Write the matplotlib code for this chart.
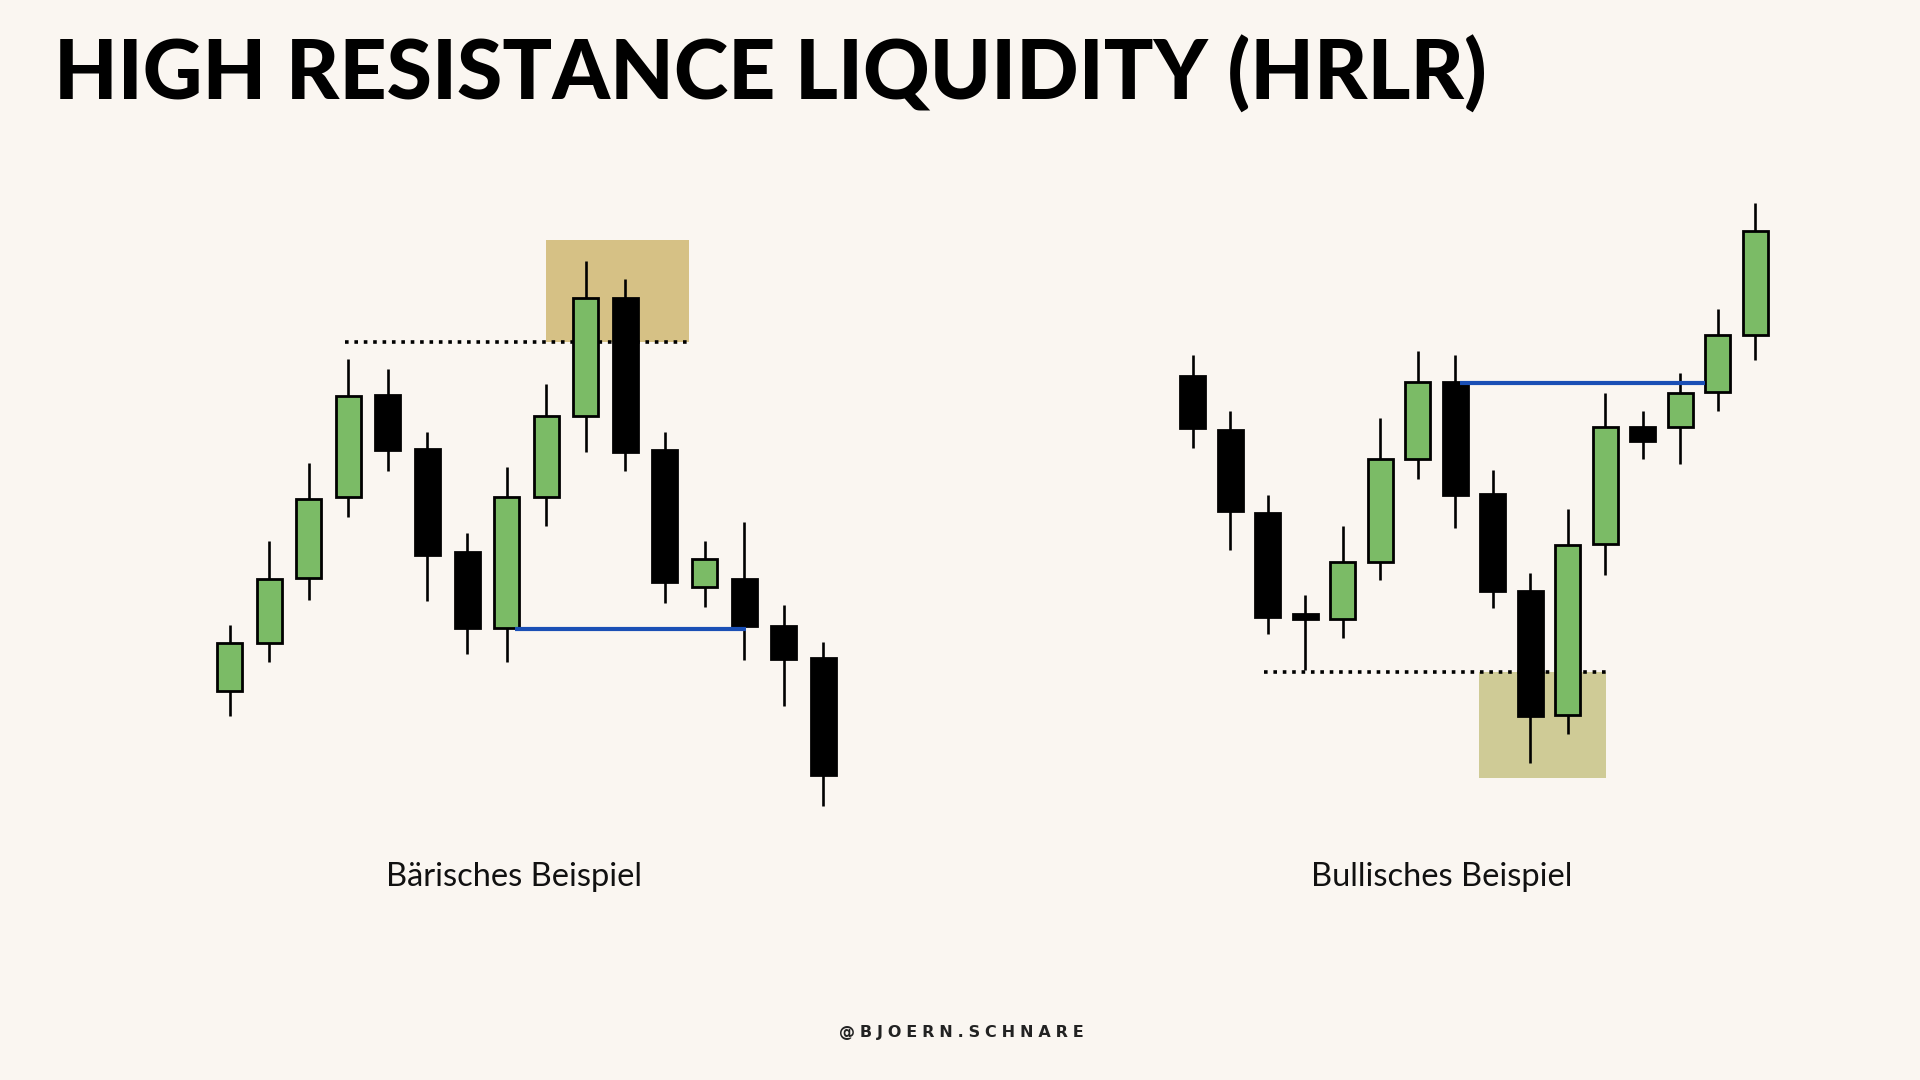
import matplotlib
matplotlib.use("Agg")
import matplotlib.pyplot as plt
from matplotlib.patches import Rectangle

# Colours
BG = "#faf6f1"
GREEN = "#7bbb66"
BLACK = "#000000"
BLUE = "#1a4fb5"
TAN_BEAR = "#d6c185"
TAN_BULL = "#cfcb96"

# Bearish example (open, high, low, close)
bear_open = [10.9, 15.7, 22.2, 30.3, 40.5, 35.1, 24.8, 17.2, 30.3, 38.4, 50.2, 35.0, 21.3, 22.1, 17.4, 14.2]
bear_high = [17.5, 25.9, 33.7, 44.1, 43.1, 36.8, 26.7, 33.3, 41.6, 53.9, 52.1, 36.8, 25.9, 27.8, 19.5, 15.8]
bear_low = [8.4, 13.8, 20.0, 28.3, 32.9, 19.9, 14.6, 13.8, 27.4, 34.8, 32.9, 19.7, 19.3, 14.0, 9.4, -0.6]
bear_close = [15.7, 22.1, 30.1, 40.4, 35.0, 24.5, 17.2, 30.3, 38.4, 50.2, 34.8, 21.8, 24.1, 17.4, 14.1, 2.5]

# Bullish example (open, high, low, close)
bull_open = [42.4, 37.0, 28.7, 18.6, 18.1, 23.8, 34.1, 41.8, 30.6, 20.9, 8.5, 25.6, 37.3, 37.3, 40.8, 46.5]
bull_high = [44.5, 38.9, 30.5, 20.5, 27.4, 38.2, 44.9, 44.5, 33.0, 22.7, 29.1, 40.7, 38.9, 42.7, 49.1, 59.7]
bull_low = [35.2, 25.0, 16.6, 13.0, 16.2, 22.0, 32.1, 27.2, 19.2, 3.7, 6.6, 22.5, 34.1, 33.6, 38.9, 44.0]
bull_close = [37.2, 28.9, 18.3, 18.1, 23.8, 34.1, 41.8, 30.5, 20.9, 8.4, 25.5, 37.3, 35.9, 40.7, 46.5, 56.9]

# Levels: (x_start, x_end, price)
bear_liq = (2.92, 11.61, 45.8)
bear_zone = (8.0, 11.61, 45.8, 56.0)
bear_break = (7.21, 13.05, 17.1)

bull_liq = (1.90, 11.02, 12.8)
bull_zone = (7.63, 11.02, 2.2, 12.8)
bull_break = (7.13, 13.67, 41.7)

labels = ["Bärisches Beispiel", "Bullisches Beispiel"]
title = "HIGH RESISTANCE LIQUIDITY (HRLR)"
handle = "@BJOERN.SCHNARE"

W, H = 1920, 1080
fig = plt.figure(figsize=(19.2, 10.8), dpi=100, facecolor=BG)


def make_axes(first_px, step_px, left_px, right_px):
    ax = fig.add_axes([left_px / W, 0, (right_px - left_px) / W, 1])
    ax.set_xlim((left_px - first_px) / step_px, (right_px - first_px) / step_px)
    ax.set_ylim(-28, 80)
    ax.axis("off")
    ax.patch.set_alpha(0)
    return ax


def draw_candles(ax, o, h, l, c, width):
    for i in range(len(o)):
        color = GREEN if c[i] >= o[i] else BLACK
        ax.plot([i, i], [l[i], h[i]], color=BLACK, lw=1.9, zorder=3, solid_capstyle="butt")
        lo = min(o[i], c[i])
        hgt = abs(c[i] - o[i])
        ax.add_patch(Rectangle((i - width / 2, lo), width, hgt, facecolor=color,
                               edgecolor=BLACK, lw=2.0, zorder=4))


def draw_levels(ax, liq, zone, brk, tan):
    x0, x1, y0, y1 = zone
    ax.add_patch(Rectangle((x0, y0), x1 - x0, y1 - y0, facecolor=tan, edgecolor="none", zorder=1))
    ax.plot([liq[0], liq[1]], [liq[2], liq[2]], color=BLACK, lw=2.6,
            linestyle=(0, (1.0, 1.6)), zorder=2)
    ax.plot([brk[0], brk[1]], [brk[2], brk[2]], color=BLUE, lw=3.0, zorder=5,
            solid_capstyle="butt")


ax1 = make_axes(229.5, 39.59, 150, 900)
draw_levels(ax1, bear_liq, bear_zone, bear_break, TAN_BEAR)
draw_candles(ax1, bear_open, bear_high, bear_low, bear_close, 25 / 39.59)

ax2 = make_axes(1192.7, 37.51, 1150, 1850)
draw_levels(ax2, bull_liq, bull_zone, bull_break, TAN_BULL)
draw_candles(ax2, bull_open, bull_high, bull_low, bull_close, 25 / 37.51)

# Texts
fig.text(54 / W, 1 - 100 / H, title, fontsize=59.3, fontweight="black", family="Lato",
         ha="left", va="baseline", color=BLACK)
fig.text(514 / W, 1 - 877 / H, labels[0], fontsize=23.5, fontweight="normal", family="Lato",
         ha="center", va="center", color="#111111")
fig.text(1442 / W, 1 - 877 / H, labels[1], fontsize=23.5, fontweight="normal", family="Lato",
         ha="center", va="center", color="#111111")
fig.text(961 / W, 1 - 1032 / H, "\u2009\u200a".join(handle), fontsize=11.5, fontweight="bold",
         family="DejaVu Sans", ha="center", va="center", color="#222222")

fig.savefig("out.png", dpi=100, facecolor=BG)
